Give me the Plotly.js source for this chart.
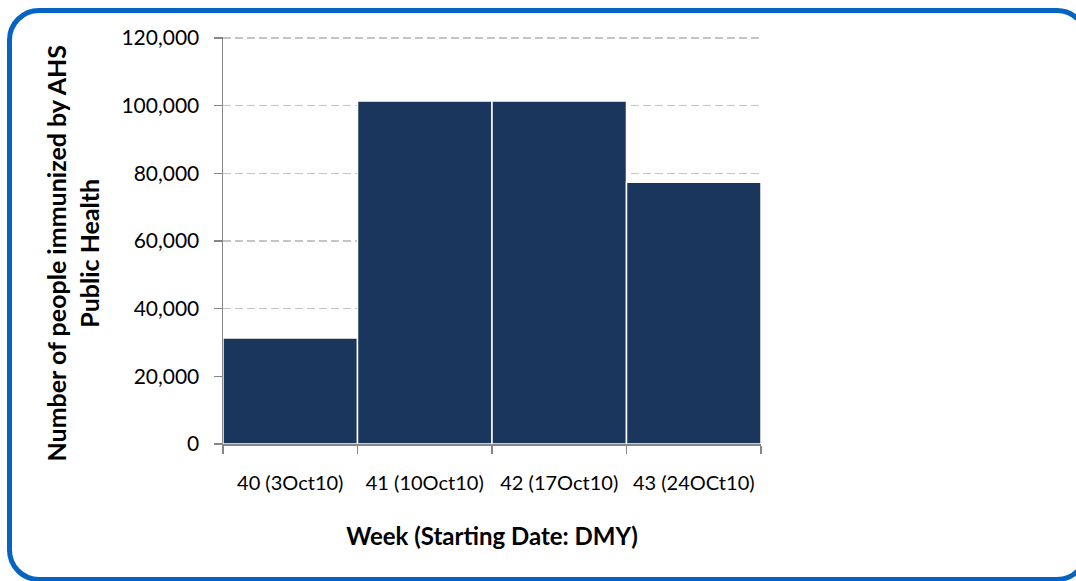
<!DOCTYPE html>
<html>
<head>
<meta charset="utf-8">
<script src="https://cdn.plot.ly/plotly-3.0.1.min.js"></script>
<style>
  html, body { margin: 0; padding: 0; background: #ffffff; overflow: hidden; }
  #wrap { position: relative; width: 1076px; height: 581px; overflow: hidden; }
  #chart { position: absolute; left: 0; top: 0; width: 1076px; height: 581px; }
  #frame { position: absolute; left: 7px; top: 8px; width: 1082px; height: 574px; box-sizing: border-box;
           border: 5px solid #0563C1; border-radius: 32px; pointer-events: none; }
</style>
</head>
<body>
<div id="wrap">
  <div id="chart"></div>
  <div id="frame"></div>
</div>
<script>
const weeks = ["40 (3Oct10)", "41 (10Oct10)", "42 (17Oct10)", "43 (24OCt10)"];
const immunized = [31300, 101400, 101400, 77400];
const yTitle = "Number of people immunized by AHS<br>Public Health";
const xTitle = "Week (Starting Date: DMY)";

const font = "Lato, Carlito, 'Open Sans', sans-serif";

const trace = {
  type: "bar",
  x: weeks,
  y: immunized,
  marker: { color: "#1A365D", line: { color: "#ffffff", width: 1.5 } },
  hoverinfo: "x+y"
};

const layout = {
  width: 1076,
  height: 581,
  margin: { l: 223, r: 315, t: 37, b: 137 },
  paper_bgcolor: "rgba(0,0,0,0)",
  plot_bgcolor: "#ffffff",
  bargap: 0,
  showlegend: false,
  font: { family: font, color: "#000000", size: 21 },
  xaxis: {
    type: "category",
    range: [-0.5, 3.5],
    showline: true, linecolor: "#878787", linewidth: 1.5,
    ticks: "outside", tickson: "boundaries", ticklen: 8, tickcolor: "#878787", tickwidth: 1.5,
    ticklabelstandoff: 20,
    tickangle: 0,
    showgrid: false,
    tickfont: { family: font, size: 20, color: "#000000" },
    title: { text: xTitle, font: { family: font, size: 24, color: "#000000", weight: "bold" }, standoff: 35 },
    automargin: false,
    fixedrange: true
  },
  yaxis: {
    range: [0, 120300],
    dtick: 20000,
    tick0: 0,
    tickformat: ",d",
    showline: true, linecolor: "#878787", linewidth: 1.5,
    ticks: "outside", ticklen: 8, tickcolor: "#878787", tickwidth: 1.5,
    ticklabelstandoff: 10,
    showgrid: true, gridcolor: "#C4C4C4", gridwidth: 1.5, griddash: "8px,4px",
    zeroline: false,
    tickfont: { family: font, size: 21, color: "#000000" },
    automargin: false,
    fixedrange: true
  },
  annotations: [{
    text: yTitle,
    xref: "paper", yref: "paper",
    x: -0.28, y: 0.469,
    xanchor: "center", yanchor: "middle",
    textangle: -90,
    showarrow: false,
    font: { family: font, size: 25, color: "#000000", weight: "bold" }
  }]
};

Plotly.newPlot("chart", [trace], layout, { displayModeBar: false, staticPlot: true });
</script>
</body>
</html>
